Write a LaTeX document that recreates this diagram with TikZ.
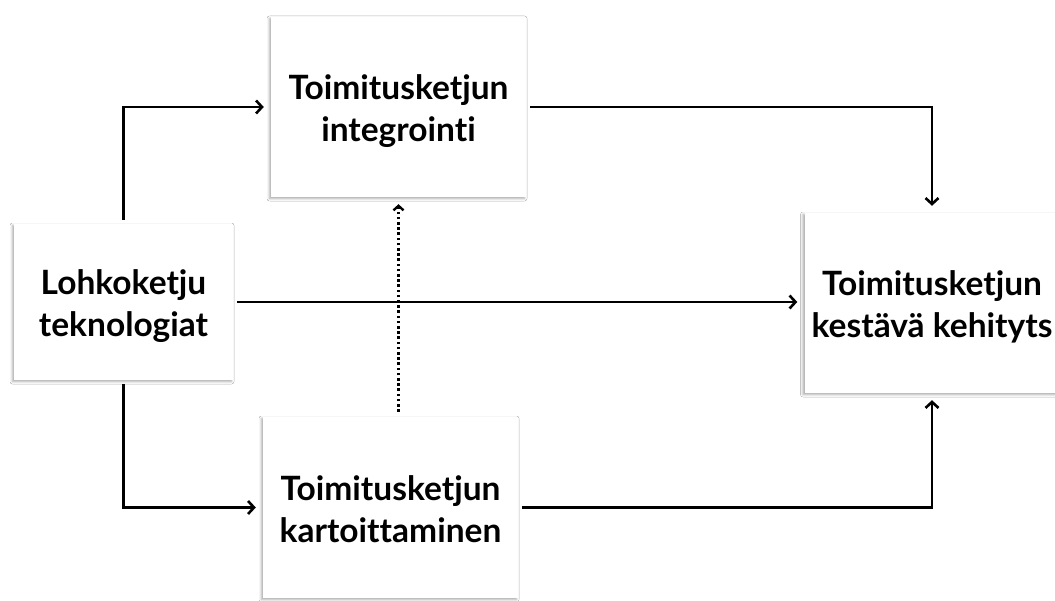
\documentclass[tikz,border=0pt]{standalone}
\usepackage{fontspec}
\setmainfont[Ligatures={NoCommon,NoRare}]{Lato}
\usetikzlibrary{arrows.meta,shadows.blur}

\tikzset{
  box/.style={fill=white, inner sep=0pt, align=center,
    text height=70pt, text depth=0pt,
    font=\fontsize{33.5}{42}\selectfont\bfseries,
    blur shadow={shadow xshift=-1.5pt, shadow yshift=-1.5pt,
                 shadow blur radius=2.5pt, shadow opacity=35}},
  arr/.style={line width=2.9pt, -{Straight Barb[length=6pt,width=13pt,line width=2.6pt]},
    shorten >=7pt, shorten <=4pt},
  dotarr/.style={line width=2.8pt, dash pattern=on 2.6pt off 2.6pt,
    -{Straight Barb[length=4.5pt,width=10pt,line width=2.4pt]},
    shorten >=7pt, shorten <=5pt},
}

\begin{document}
\begin{tikzpicture}[x=1pt, y=-1pt]
  \useasboundingbox (0,0) rectangle (1055,601);
  \fill[white] (0,0) rectangle (1055,601);

  % blocks
  \node[box, minimum width=219pt, minimum height=156pt] (lt) at (123.5,302) {Lohkoketju\\teknologiat};
  \node[box, minimum width=255pt, minimum height=180pt] (ti) at (398.5,107) {Toimitusketjun\\integrointi};
  \node[box, minimum width=255pt, minimum height=181pt] (kt) at (390.5,507.5) {Toimitusketjun\\kartoittaminen};
  \node[box, minimum width=255pt, minimum height=180pt] (kk) at (932,303) {Toimitusketjun\\kestävä kehityts};

  % connectors
  \draw[arr] (lt.north) |- (ti.west);
  \draw[arr] (lt.south) |- (kt.west);
  \draw[arr] (lt.east) -- (lt.east -| kk.west);
  \draw[arr] (ti.east) -| (kk.north);
  \draw[arr] (kt.east) -| (kk.south);
  \draw[dotarr] (ti.south |- kt.north) -- (ti.south);
\end{tikzpicture}
\end{document}
